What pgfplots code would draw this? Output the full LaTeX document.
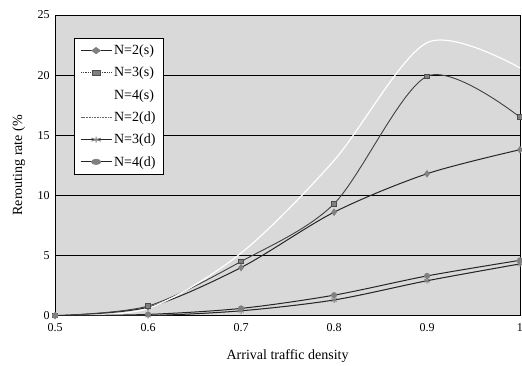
\documentclass[border=0pt]{standalone}
\usepackage{pgfplots}
\pgfplotsset{compat=1.18}
\usepackage{fontspec}
\setmainfont{Liberation Serif}
\pgfplotsset{dottedlegend/.style={legend image code/.code={%
  \draw[##1, densely dotted, mark=none] (0cm,0cm) -- (0.6cm,0cm);
  \draw[##1] plot coordinates {(0.3cm,0cm)};}}}
\begin{document}
\begin{tikzpicture}
\begin{axis}[
  name=main,
  scale only axis,
  width=464pt, height=300pt,
  xmin=0.5, xmax=1, ymin=0, ymax=25,
  xtick={0.5,0.6,0.7,0.8,0.9,1},
  xticklabels={0.5,0.6,0.7,0.8,0.9,1},
  ytick={0,5,10,15,20,25},
  ymajorgrids,
  grid style={black, line width=0.9pt},
  axis background/.style={fill=gray!30},
  axis line style={black, line width=0.8pt},
  tick style={draw=none},
  tick label style={font=\fontsize{12}{13}\selectfont},
  yticklabel style={xshift=-2pt},
  xticklabel style={yshift=-4pt},
  /pgf/number format/assume math mode=true,
  xlabel={Arrival traffic density},
  ylabel={Rerouting rate (\%},
  label style={font=\fontsize{14}{15}\selectfont},
  xlabel style={at={(axis description cs:0.5,-0.135)}, anchor=center},
  ylabel style={at={(axis description cs:-0.078,0.5)}, anchor=center},
  legend style={at={(0.04,0.925)}, anchor=north west, draw=black, fill=white,
    font=\fontsize{14}{15}\selectfont, row sep=7pt, line width=0.8pt,
    inner xsep=6pt, inner ysep=5pt},
  legend image post style={xscale=1.8},
  legend cell align=left,
]
\addplot[black!85, line width=1pt, smooth, mark=diamond*, mark size=3pt, mark options={fill=gray, draw=gray}]
  coordinates {(0.5,0) (0.6,0.7) (0.7,4.0) (0.8,8.6) (0.9,11.8) (1,13.8)};
\addlegendentry{N=2(s)}
\addplot[black!75, line width=0.9pt, smooth, mark=square*, mark size=2.3pt, mark options={fill=gray, draw=gray!60!black, solid}, dottedlegend]
  coordinates {(0.5,0) (0.6,0.8) (0.7,4.5) (0.8,9.3) (0.9,19.9) (1,16.5)};
\addlegendentry{N=3(s)}
\addplot[white, line width=1.2pt, smooth, mark=none]
  coordinates {(0.5,0) (0.6,0.6) (0.7,5.2) (0.8,12.9) (0.9,22.7) (1,20.6)};
\addlegendentry{N=4(s)}
\addplot[black!60, densely dotted, line width=0.6pt, smooth, mark=none]
  coordinates {(0.5,0) (0.6,0) (0.7,0.4) (0.8,1.3) (0.9,2.9) (1,4.3)};
\addlegendentry{N=2(d)}
\addplot[black!85, line width=1pt, smooth, mark=asterisk, mark size=3pt, mark options={draw=gray, line width=1pt}]
  coordinates {(0.5,0) (0.6,0) (0.7,0.4) (0.8,1.3) (0.9,2.9) (1,4.3)};
\addlegendentry{N=3(d)}
\addplot[black!85, line width=1pt, smooth, mark=*, mark size=2.5pt, mark options={fill=gray, draw=gray}]
  coordinates {(0.5,0) (0.6,0.1) (0.7,0.6) (0.8,1.7) (0.9,3.3) (1,4.6)};
\addlegendentry{N=4(d)}
\end{axis}
\pgfresetboundingbox
\useasboundingbox ([shift={(-55pt,-50pt)}]main.south west) rectangle ([shift={(2pt,15pt)}]main.north east);
\end{tikzpicture}
\end{document}
